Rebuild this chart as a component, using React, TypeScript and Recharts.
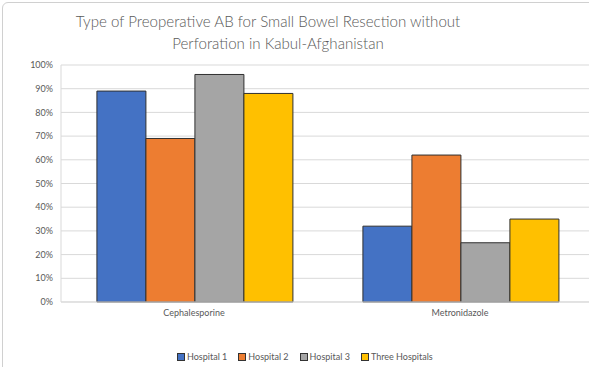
import { Bar, BarChart, CartesianGrid, XAxis, YAxis } from "recharts";

const categories = ["Cephalesporine", "Metronidazole"];
const hospital1 = [89, 32];
const hospital2 = [69, 62];
const hospital3 = [96, 25];
const threeHospitals = [88, 35];
const seriesNames = ["Hospital 1", "Hospital 2", "Hospital 3", "Three Hospitals"];
const yTicks = [0, 10, 20, 30, 40, 50, 60, 70, 80, 90, 100];
const titleLines = [
  "Type of Preoperative AB for Small Bowel Resection without",
  "Perforation in Kabul-Afghanistan",
];

const FONT = "Lato, 'Open Sans', sans-serif";
const TEXT = "#595959";

const series = [
  { key: "h1", name: seriesNames[0], color: "#4472C4", values: hospital1 },
  { key: "h2", name: seriesNames[1], color: "#ED7D31", values: hospital2 },
  { key: "h3", name: seriesNames[2], color: "#A5A5A5", values: hospital3 },
  { key: "all", name: seriesNames[3], color: "#FFC000", values: threeHospitals },
];

const data = categories.map((name, i) => {
  const row: Record<string, string | number> = { name };
  series.forEach((s) => {
    row[s.key] = s.values[i];
  });
  return row;
});

function Title() {
  const centers = [268, 278];
  return (
    <>
      {titleLines.map((line, i) => (
        <div
          key={line}
          style={{
            position: "absolute",
            left: centers[i],
            top: 10 + i * 22,
            transform: "translateX(-50%)",
            whiteSpace: "nowrap",
            fontFamily: FONT,
            fontSize: 15.1,
            fontWeight: 300,
            lineHeight: "22px",
            color: TEXT,
          }}
        >
          {line}
        </div>
      ))}
    </>
  );
}

function LegendRow() {
  return (
    <div
      style={{
        position: "absolute",
        left: 177,
        top: 351,
        display: "flex",
        gap: 11,
        fontFamily: FONT,
        fontSize: 9,
        lineHeight: "12px",
        color: TEXT,
      }}
    >
      {series.map((s) => (
        <div key={s.key} style={{ display: "flex", alignItems: "center", gap: 2 }}>
          <span
            style={{
              width: 6,
              height: 6,
              background: s.color,
              border: "1px solid #333",
            }}
          />
          <span>{s.name}</span>
        </div>
      ))}
    </div>
  );
}

export default function App() {
  return (
    <div
      style={{
        position: "fixed",
        left: 0,
        top: 0,
        width: 589,
        height: 367,
        overflow: "hidden",
        background: "#fff",
      }}
    >
      <div
        style={{
          position: "absolute",
          left: 2,
          top: 2,
          width: 640,
          height: 420,
          border: "1px solid #d0d0d0",
          borderRadius: 6,
        }}
      />
      <Title />
      <div style={{ position: "absolute", left: 0, top: 0 }}>
        <BarChart
          width={600}
          height={367}
          data={data}
          margin={{ top: 65, right: 7, bottom: 45, left: 0 }}
          barCategoryGap="13.5%"
          barGap={0}
        >
          <CartesianGrid stroke="#d9d9d9" vertical={false} />
          <XAxis
            dataKey="name"
            axisLine={{ stroke: "#d9d9d9" }}
            tickLine={false}
            height={20}
            tick={{ fill: TEXT, fontSize: 9, fontFamily: FONT }}
          />
          <YAxis
            width={61}
            domain={[0, 100]}
            ticks={yTicks}
            interval={0}
            tickFormatter={(v: number) => `${v}%`}
            axisLine={{ stroke: "#d9d9d9" }}
            tickLine={false}
            tick={{ fill: TEXT, fontSize: 9, fontFamily: FONT }}
          />
          {series.map((s) => (
            <Bar
              key={s.key}
              dataKey={s.key}
              name={s.name}
              fill={s.color}
              stroke="#303030"
              strokeWidth={1}
              isAnimationActive={false}
            />
          ))}
        </BarChart>
      </div>
      <LegendRow />
    </div>
  );
}
